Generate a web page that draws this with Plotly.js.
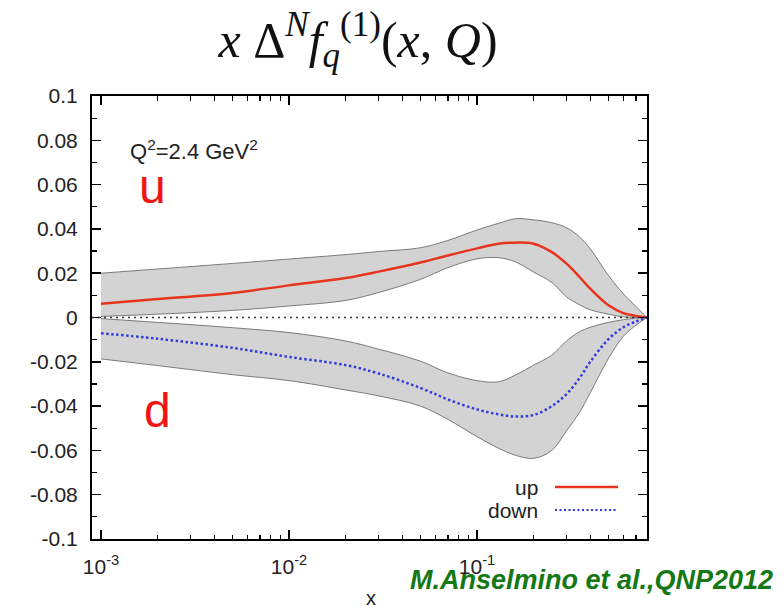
<!DOCTYPE html>
<html>
<head>
<meta charset="utf-8">
<script src="https://cdn.plot.ly/plotly-3.0.1.min.js"></script>
<style>html,body{margin:0;padding:0;background:#fff;}#chart{width:784px;height:606px;}</style>
</head>
<body>
<div id="chart"></div>
<script>
// x values (momentum fraction)
const xs = [0.001,0.002,0.005,0.01,0.02,0.03,0.05,0.07,0.1,0.13,0.16,0.2,0.25,0.3,0.35,0.4,0.5,0.6,0.7,0.8];
// up quark: central curve and error band
const upCentral = [0.0062,0.0083,0.0111,0.0145,0.0178,0.0207,0.0248,0.0280,0.0312,0.0333,0.0338,0.0333,0.0295,0.0242,0.0184,0.0130,0.0055,0.0020,0.0007,0];
const upUpper   = [0.0200,0.0219,0.0244,0.0264,0.0284,0.0298,0.0315,0.0348,0.0395,0.0425,0.0446,0.0441,0.0428,0.0405,0.0365,0.0310,0.0190,0.0107,0.0050,0];
const upLower   = [0.0005,0.0015,0.0032,0.0052,0.0077,0.0113,0.0172,0.0225,0.0265,0.0270,0.0251,0.0205,0.0158,0.0092,0.0058,0.0035,0.0015,0.0003,0,0];
// down quark: central curve and error band
const downCentral = [-0.0071,-0.0096,-0.0137,-0.0178,-0.0215,-0.0253,-0.0318,-0.0370,-0.0415,-0.0437,-0.0447,-0.0440,-0.0400,-0.0345,-0.0275,-0.0200,-0.0098,-0.0044,-0.0018,0];
const downUpper   = [-0.0005,-0.0022,-0.0046,-0.0068,-0.0106,-0.0143,-0.0197,-0.0250,-0.0285,-0.0290,-0.0260,-0.0215,-0.0170,-0.0105,-0.0065,-0.0044,-0.0022,-0.0010,-0.0003,0];
const downLower   = [-0.0187,-0.0217,-0.0258,-0.0285,-0.0327,-0.0354,-0.0400,-0.0460,-0.0538,-0.0590,-0.0622,-0.0636,-0.0600,-0.0510,-0.0430,-0.0340,-0.0185,-0.0085,-0.0035,0];
// tick labels
const yTickVals = [0.1,0.08,0.06,0.04,0.02,0,-0.02,-0.04,-0.06,-0.08,-0.1];
const yTickText = ['0.1','0.08','0.06','0.04','0.02','0','-0.02','-0.04','-0.06','-0.08','-0.1'];
const xTickVals = [0.001,0.01,0.1];
const xTickText = ['10<sup>-3</sup>','10<sup>-2</sup>','10<sup>-1</sup>'];
const seriesNames = ['up','down'];

const xMinor = [];
[0.001,0.01,0.1].forEach(d => { for (let k=2;k<=9;k++){ xMinor.push(d*k); } });

const bandFill = 'rgb(211,211,211)';
const bandEdge = {color:'rgb(95,95,95)', width:0.8, shape:'spline', smoothing:1};
const redC = 'rgb(232,52,30)';
const blueC = 'rgb(50,60,220)';

const traces = [
  {x: xs, y: upUpper, mode:'lines', line: bandEdge, hoverinfo:'skip'},
  {x: xs, y: upLower, mode:'lines', line: bandEdge, fill:'tonexty', fillcolor: bandFill, hoverinfo:'skip'},
  {x: xs, y: downUpper, mode:'lines', line: bandEdge, hoverinfo:'skip'},
  {x: xs, y: downLower, mode:'lines', line: bandEdge, fill:'tonexty', fillcolor: bandFill, hoverinfo:'skip'},
  {x: xs, y: upCentral, mode:'lines', name: seriesNames[0], line:{color: redC, width:2.5, shape:'spline', smoothing:1}},
  {x: xs, y: downCentral, mode:'lines', name: seriesNames[1], line:{color: blueC, width:2.5, dash:'2.5px,2.5px', shape:'spline', smoothing:1}}
];

const font = 'Liberation Sans, Arial, sans-serif';
const layout = {
  width: 784, height: 606,
  margin: {l:92, r:137, t:96, b:67},
  paper_bgcolor:'#fff', plot_bgcolor:'#fff',
  showlegend: false,
  title: {
    text: '<i>x</i> Δ<sup><i>N</i></sup><i>f</i><sub><i>q</i></sub><sup>(1)</sup>(<i>x</i>, <i>Q</i>)',
    font: {family:'Liberation Serif, Times New Roman, serif', size:50, color:'#111'},
    x: 358/784, xanchor:'center', y: 0.935, yanchor:'middle'
  },
  xaxis: {
    type:'log', range:[-3.048, -0.096],
    tickmode:'array', tickvals: xTickVals, ticktext: xTickText,
    ticks:'inside', ticklen:9, tickwidth:1.5, tickcolor:'#000',
    showline:true, linewidth:2, linecolor:'#000', mirror:'allticks',
    showgrid:false, zeroline:false,
    tickfont:{family:font, size:21, color:'#222'},
    ticklabelstandoff: 8,
    minor:{tickmode:'array', tickvals: xMinor, ticks:'inside', ticklen:4.5, tickwidth:1.3, tickcolor:'#000', showgrid:false}
  },
  yaxis: {
    range:[-0.1, 0.1],
    tickmode:'array', tickvals: yTickVals, ticktext: yTickText,
    ticks:'inside', ticklen:9, tickwidth:1.5, tickcolor:'#000',
    showline:true, linewidth:2, linecolor:'#000', mirror:'allticks',
    showgrid:false, zeroline:false,
    tickfont:{family:font, size:21, color:'#222'},
    ticklabelstandoff: 8,
    minor:{dtick:0.01, ticks:'inside', ticklen:5, tickwidth:1.3, tickcolor:'#000', showgrid:false}
  },
  shapes: [
    {type:'line', xref:'paper', yref:'y', x0:0, x1:1, y0:0, y1:0, layer:'above',
     line:{color:'#333', width:1.5, dash:'2px,4px'}},
    {type:'line', xref:'paper', yref:'paper', x0:(555-92)/555, x1:(618-92)/555, y0:(539-487)/443, y1:(539-487)/443,
     line:{color:redC, width:2.5}},
    {type:'line', xref:'paper', yref:'paper', x0:(555-92)/555, x1:(618-92)/555, y0:(539-510)/443, y1:(539-510)/443,
     line:{color:blueC, width:2, dash:'2px,2.5px'}}
  ],
  annotations: [
    {xref:'paper', yref:'paper', x:(128-92)/555, y:(539-150)/443, xanchor:'left', yanchor:'middle', showarrow:false,
     text:'Q<sup>2</sup>=2.4 GeV<sup>2</sup>', font:{family:font, size:22, color:'#222'}},
    {xref:'paper', yref:'paper', x:(152-92)/555, y:(539-186)/443, xanchor:'center', yanchor:'middle', showarrow:false,
     text:'u', font:{family:font, size:48, color:'rgb(240,20,20)'}},
    {xref:'paper', yref:'paper', x:(157-92)/555, y:(539-410)/443, xanchor:'center', yanchor:'middle', showarrow:false,
     text:'d', font:{family:font, size:48, color:'rgb(240,20,20)'}},
    {xref:'paper', yref:'paper', x:(540-92)/555, y:(539-487)/443, xanchor:'right', yanchor:'middle', showarrow:false,
     text: seriesNames[0], font:{family:font, size:21, color:'#222'}},
    {xref:'paper', yref:'paper', x:(540-92)/555, y:(539-510)/443, xanchor:'right', yanchor:'middle', showarrow:false,
     text: seriesNames[1], font:{family:font, size:21, color:'#222'}},
    {xref:'paper', yref:'paper', x:(591-92)/555, y:(539-580)/443, xanchor:'center', yanchor:'middle', showarrow:false,
     text:'<b><i>M.Anselmino et al.,QNP2012</i></b>', font:{family:font, size:27, color:'rgb(20,120,20)'}},
    {xref:'paper', yref:'paper', x:(371-92)/555, y:(539-598)/443, xanchor:'center', yanchor:'middle', showarrow:false,
     text:'x', font:{family:font, size:20, color:'#222'}}
  ]
};

Plotly.newPlot('chart', traces, layout, {displayModeBar:false, staticPlot:true});
</script>
</body>
</html>
